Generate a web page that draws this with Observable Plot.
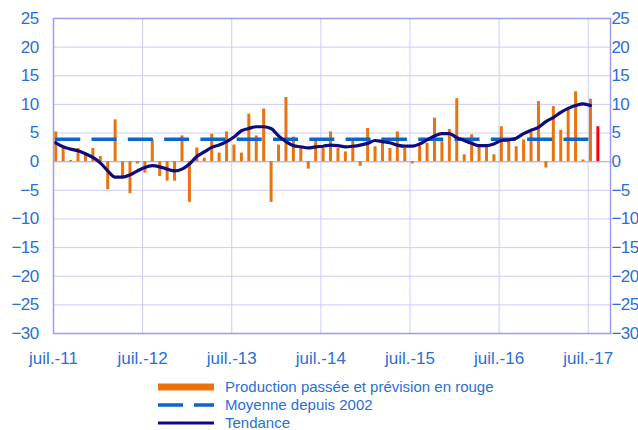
<!DOCTYPE html>
<html><head><meta charset="utf-8">
<script src="https://cdn.jsdelivr.net/npm/d3@7"></script>
<script src="https://cdn.jsdelivr.net/npm/@observablehq/plot@0.6"></script>
<style>
body{margin:0;background:#fff;font-family:"Liberation Sans",Arial,sans-serif;}
#legend{margin-left:158px;padding-top:6px;color:#2a6fd6;font-size:15px;line-height:18px;}
.row{display:flex;align-items:center;height:18px;}
.row svg{margin-right:11px;flex:none}
g[aria-label="y-axis tick label"] text{letter-spacing:-0.6px}
</style></head><body>
<div id="chart"></div>
<div id="legend"></div>
<script>
// Monthly values, juil. 2011 -> août 2017 (last one = forecast, in red)
const production = [
  5.2, 2.5, 0.2, 2.3, 1.3, 2.3,
  0.9, -4.9, 7.3, -2.7, -5.6, -0.4,
  -2.0, 3.8, -2.6, -3.4, -3.4, 4.5,
  -7.1, 2.4, 0.6, 4.8, 1.5, 5.2,
  2.9, 1.5, 8.3, 4.5, 9.2, -7.1,
  2.9, 11.2, 4.3, 2.3, -1.3, 3.7,
  2.3, 5.2, 2.3, 1.7, 3.7, -0.8,
  5.8, 2.6, 4.1, 2.3, 5.2, 2.3,
  -0.4, 2.8, 3.2, 7.6, 3.5, 5.6,
  11.0, 1.2, 4.7, 2.7, 2.7, 1.2,
  6.1, 3.5, 2.6, 3.8, 5.1, 10.5,
  -1.1, 9.6, 5.5, 9.2, 12.2, 0.3,
  10.9, 6.1
];
// Trend, juil. 2011 -> juil. 2017
const tendance = [
  3.3, 2.6, 2.2, 1.9, 1.4, 0.75,
  -0.2, -1.6, -2.7, -2.7, -2.3, -1.6,
  -1.0, -0.7, -0.9, -1.3, -1.6, -1.3,
  -0.4, 0.9, 1.7, 2.5, 2.9, 3.5,
  4.3, 5.4, 5.8, 6.1, 6.1, 5.8,
  4.5, 3.5, 2.8, 2.6, 2.4, 2.6,
  2.7, 2.9, 2.8, 2.6, 2.7, 2.9,
  3.2, 3.7, 3.5, 3.3, 2.9, 2.7,
  2.7, 3.1, 3.8, 4.5, 4.9, 4.9,
  4.2, 3.7, 3.2, 2.8, 2.8, 3.1,
  3.7, 3.8, 4.1, 4.9, 5.5, 6.0,
  7.0, 7.7, 8.6, 9.3, 9.8, 10.1,
  9.8
];
const moyenne = 3.9;
const tickMonths = [0, 12, 24, 36, 48, 60, 72];
const tickLabels = ["juil.-11", "juil.-12", "juil.-13", "juil.-14", "juil.-15", "juil.-16", "juil.-17"];
const yTicks = [-30, -25, -20, -15, -10, -5, 0, 5, 10, 15, 20, 25];
const legendLabels = ["Production passée et prévision en rouge", "Moyenne depuis 2002", "Tendance"];

const C = {orange: "#e8730f", red: "#ff0000", dash: "#0a66cc", navy: "#0c0c80",
  grid: "#ccccfa", frame: "#9c9cf0", text: "#2a6fd6"};
const off = 0.3;
const bars = production.map((v, i) => ({i, v, forecast: i === production.length - 1}));
const trend = tendance.map((v, i) => ({i, v}));

const chart = Plot.plot({
  width: 638, height: 372,
  marginLeft: 53, marginRight: 28, marginTop: 18, marginBottom: 39,
  style: {fontFamily: '"Liberation Sans", Arial, sans-serif', fontSize: "17px", background: "#fff"},
  x: {domain: [0, 75]},
  y: {domain: [-30, 25]},
  marks: [
    Plot.gridY(yTicks, {stroke: C.grid, strokeOpacity: 1}),
    Plot.gridX(tickMonths, {stroke: C.grid, strokeOpacity: 1}),
    Plot.ruleY([0], {stroke: "#b4b4f4", strokeWidth: 1.3}),
    Plot.ruleX(bars, {x: d => d.i + off, y1: 0, y2: "v", strokeWidth: 3,
      stroke: d => d.forecast ? C.red : C.orange}),
    Plot.ruleY([moyenne], {x1: off, x2: tendance.length - 1 + off, stroke: C.dash,
      strokeWidth: 3.5, strokeDasharray: "25,11.3"}),
    Plot.line(trend, {x: d => d.i + off, y: "v", stroke: C.navy, strokeWidth: 3.2, curve: "monotone-x"}),
    Plot.frame({stroke: C.frame, strokeWidth: 1.5}),
    Plot.axisY(yTicks, {anchor: "left", tickSize: 0, tickPadding: 15, label: null, fill: C.text, fontSize: 17}),
    Plot.axisY(yTicks, {anchor: "right", tickSize: 0, tickPadding: 1, label: null, fill: C.text, fontSize: 17}),
    Plot.axisX(tickMonths, {anchor: "bottom", tickSize: 0, tickPadding: 18, label: null, fill: C.text, fontSize: 17,
      tickFormat: d => tickLabels[tickMonths.indexOf(d)]})
  ]
});
document.getElementById("chart").appendChild(chart);

const swatches = [
  `<svg width="56" height="18"><line x1="0" x2="56" y1="9" y2="9" stroke="${C.orange}" stroke-width="7"/></svg>`,
  `<svg width="56" height="18"><line x1="0" x2="56" y1="9" y2="9" stroke="${C.dash}" stroke-width="3.5" stroke-dasharray="25,11"/></svg>`,
  `<svg width="56" height="18"><line x1="0" x2="56" y1="9" y2="9" stroke="${C.navy}" stroke-width="3.2"/></svg>`
];
document.getElementById("legend").innerHTML = legendLabels
  .map((t, k) => `<div class="row">${swatches[k]}<span>${t}</span></div>`).join("");
</script>
</body></html>
